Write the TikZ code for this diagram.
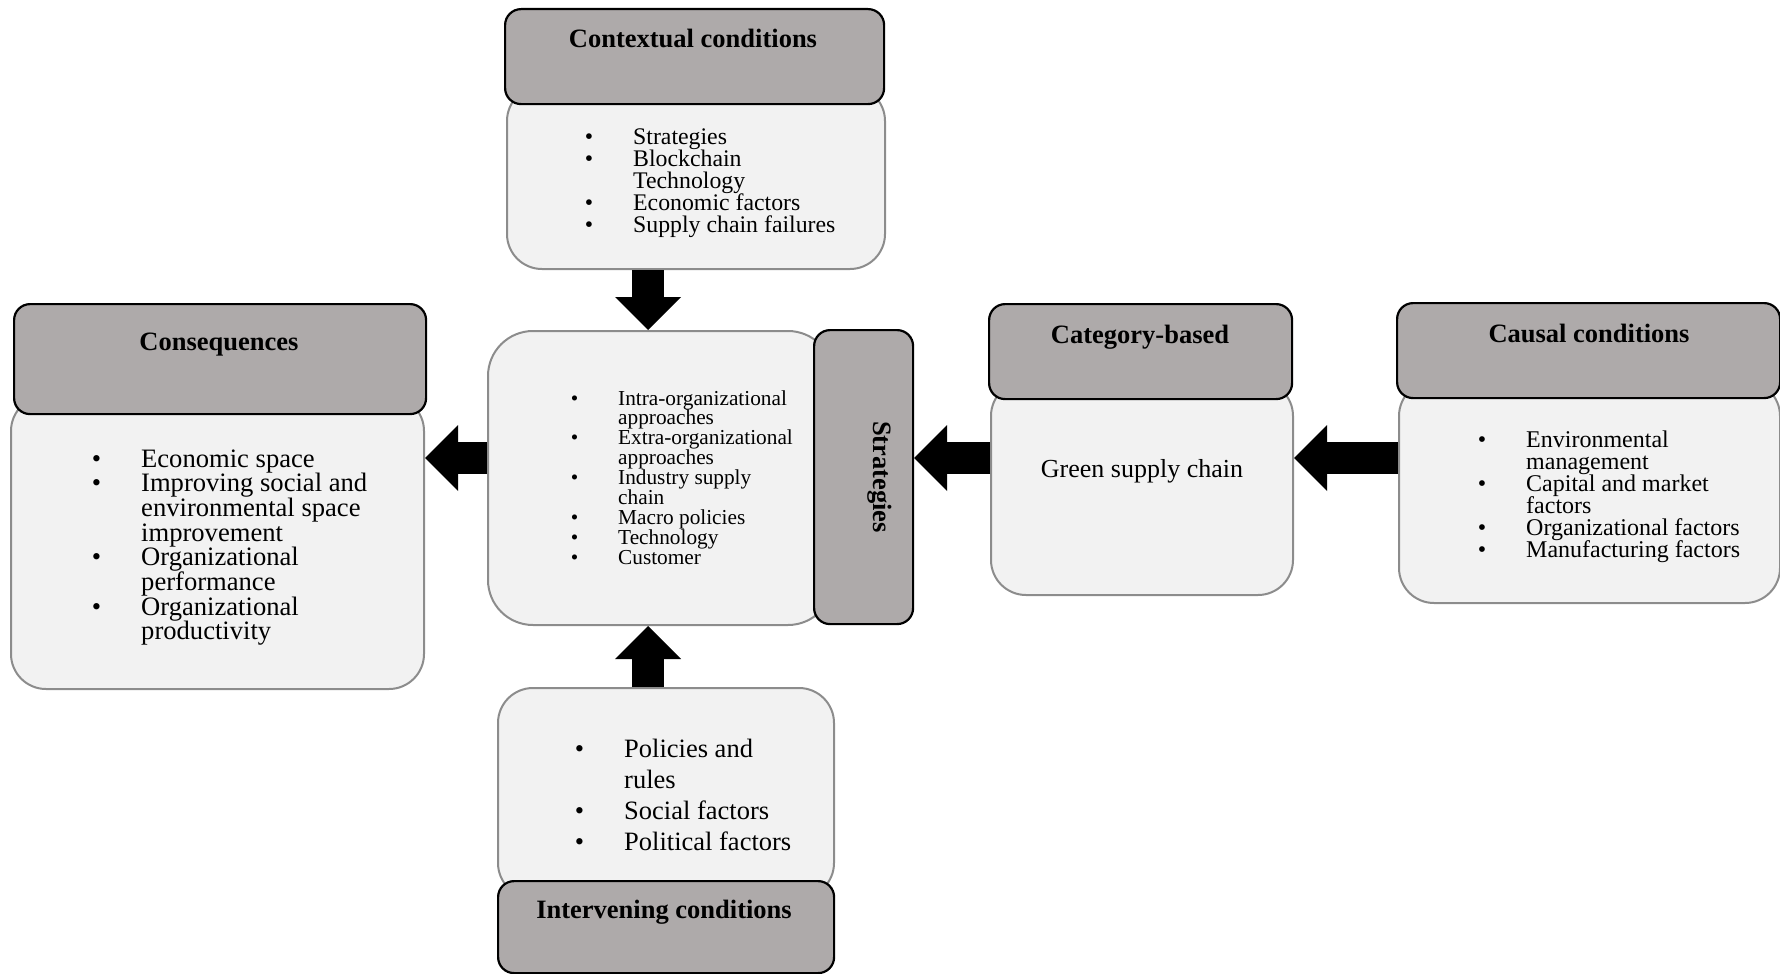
\documentclass[tikz,border=0pt]{standalone}
\usepackage{fontspec}
\setmainfont{Liberation Serif}
\usetikzlibrary{arrows.meta, positioning}

\definecolor{headgray}{HTML}{AEAAAA}
\definecolor{bodygray}{HTML}{F2F2F2}
\definecolor{edgegray}{HTML}{8C8C8C}

% bullet hanging left of the text start
\newcommand{\bu}{\leavevmode\llap{\textbullet\hspace{40pt}}}
\newcommand{\itemlist}[3]{\vtop{\fontsize{#1}{#2}\selectfont\lineskiplimit=-100pt
  \hsize=400pt\parindent=0pt\parskip=0pt\raggedright\noindent #3\par}}

\tikzset{
  bodybox/.style={draw=edgegray, line width=2pt, fill=bodygray, rounded corners=35pt, anchor=north west, inner sep=0pt},
  headbox/.style={draw=black, line width=2.2pt, fill=headgray, rounded corners=16pt, anchor=north west, inner sep=0pt},
  headtext/.style={font=\fontsize{26.5}{30}\selectfont\bfseries, anchor=base, inner sep=0pt},
  listtext/.style={anchor=base west, inner sep=0pt},
  blockarrow/.style={line width=32pt, -{Triangle[length=33pt, width=66pt, line width=0pt]}},
}

\begin{document}
\begin{tikzpicture}[x=1pt, y=-1pt]
\useasboundingbox (0,0) rectangle (1780,974);

% light boxes
\node[bodybox, minimum width=378pt, minimum height=183pt] (ctxbody) at (506,85) {};
\node[bodybox, minimum width=413pt, minimum height=293pt] (conbody) at (10,395) {};
\node[bodybox, rounded corners=45pt, minimum width=345pt, minimum height=294pt] (midbody) at (487,330) {};
\node[bodybox, minimum width=302pt, minimum height=214pt] (catbody) at (990,380) {};
\node[bodybox, minimum width=381pt, minimum height=222pt] (caubody) at (1398,380) {};
\node[bodybox, minimum width=336pt, minimum height=210pt] (intbody) at (497,687) {};

% dark title boxes
\node[headbox, minimum width=379pt, minimum height=95pt] (ctxhead) at (504,8) {};
\node[headbox, minimum width=412pt, minimum height=110pt] (conhead) at (13,303) {};
\node[headbox, minimum width=99pt, minimum height=294pt] (strathead) at (813,329) {};
\node[headbox, minimum width=303pt, minimum height=95pt] (cathead) at (988,303) {};
\node[headbox, minimum width=383pt, minimum height=95pt] (cauhead) at (1396,302) {};
\node[headbox, minimum width=336pt, minimum height=92pt] (inthead) at (497,880) {};

% titles
\node[headtext] (ctxtitle) at (693,48) {Contextual conditions};
\node[headtext] (contitle) at (219,350) {Consequences};
\node[headtext] (cattitle) at (1140,343) {Category-based};
\node[headtext] (cautitle) at (1589,342) {Causal conditions};
\node[headtext] (inttitle) at (664,918) {Intervening conditions};
\node[headtext, anchor=center, rotate=-90] (strattitle) at (880,477) {Strategies};

% lists
\node[listtext] (ctxlist) at (633,144) {\itemlist{23.8}{22.2}{%
  \bu Strategies\\ \bu Blockchain\\ Technology\\ \bu Economic factors\\ \bu Supply chain failures}};
\node[listtext] (conlist) at (141,467) {\itemlist{26.6}{24.7}{%
  \bu Economic space\\ \bu Improving social and\\ environmental space\\ improvement\\
  \bu Organizational\\ performance\\ \bu Organizational\\ productivity}};
\node[listtext] (midlist) at (618,405) {\itemlist{21.3}{19.9}{%
  \bu Intra-organizational\\ approaches\\ \bu Extra-organizational\\ approaches\\
  \bu Industry supply\\ chain\\ \bu Macro policies\\ \bu Technology\\ \bu Customer}};
\node[listtext] (caulist) at (1526,447) {\itemlist{24}{22.1}{%
  \bu Environmental\\ management\\ \bu Capital and market\\ factors\\
  \bu Organizational factors\\ \bu Manufacturing factors}};
\node[listtext] (intlist) at (624,757) {\itemlist{26.5}{31}{%
  \bu Policies and\\ rules\\ \bu Social factors\\ \bu Political factors}};
\node[anchor=base, inner sep=0pt, font=\fontsize{26}{30}\selectfont] (green) at (1142,477) {Green supply chain};

% block arrows
\coordinate (arrowrow) at (0,458);
\coordinate (arrowcol) at (648,0);
\draw[blockarrow] (ctxbody.south -| arrowcol) -- (midbody.north -| arrowcol);
\draw[blockarrow] (intbody.north -| arrowcol) -- (midbody.south -| arrowcol);
\draw[blockarrow] (midbody.west |- arrowrow) -- (conbody.east |- arrowrow);
\draw[blockarrow] (catbody.west |- arrowrow) -- (strathead.east |- arrowrow);
\draw[blockarrow] (caubody.west |- arrowrow) -- (catbody.east |- arrowrow);
\end{tikzpicture}
\end{document}
